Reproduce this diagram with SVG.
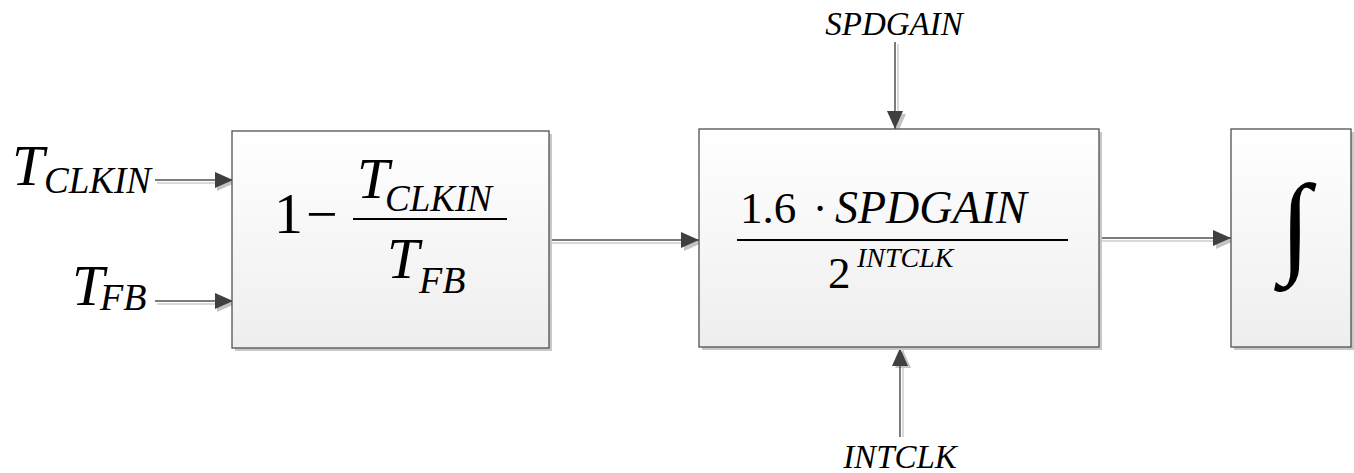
<svg xmlns="http://www.w3.org/2000/svg" width="1354" height="473" viewBox="0 0 1354 473" font-family="Liberation Serif, DejaVu Serif, serif">
<defs>
<linearGradient id="boxfill" x1="0" y1="0" x2="0" y2="1">
<stop offset="0" stop-color="#ffffff"/>
<stop offset="1" stop-color="#eeeeee"/>
</linearGradient>
<marker id="ah" viewBox="0 0 18 16" refX="18" refY="8" markerWidth="18" markerHeight="16" markerUnits="userSpaceOnUse" orient="auto">
<path d="M0,0 L18,8 L0,16 Z" fill="#404040"/>
</marker>
<marker id="ahs" viewBox="0 0 18 16" refX="18" refY="8" markerWidth="18" markerHeight="16" markerUnits="userSpaceOnUse" orient="auto">
<path d="M0,0 L18,8 L0,16 Z" fill="#c4c4c4"/>
</marker>
</defs>
<style>
.box{fill:url(#boxfill);stroke:#505050;stroke-width:1.3}
.shadow{fill:#c8c8c8}
.line{stroke:#505050;stroke-width:1.5;fill:none;marker-end:url(#ah)}
.lines{stroke:#cccccc;stroke-width:1.5;fill:none;marker-end:url(#ahs)}
.it{font-style:italic;fill:#000}
.rm{fill:#000}
.bar{stroke:#000;stroke-width:2}
</style>
<g id="connectors">
<line class="lines" x1="157" y1="183" x2="235" y2="183"/>
<line class="line" x1="155" y1="180" x2="233" y2="180"/>
<line class="lines" x1="157" y1="304" x2="235" y2="304"/>
<line class="line" x1="155" y1="301" x2="233" y2="301"/>
<line class="lines" x1="551" y1="243" x2="702" y2="243"/>
<line class="line" x1="549" y1="240" x2="699" y2="240"/>
<line class="lines" x1="1101" y1="241" x2="1234" y2="241"/>
<line class="line" x1="1099" y1="238" x2="1231" y2="238"/>
<line class="lines" x1="898" y1="44" x2="898" y2="132"/>
<line class="line" x1="895" y1="42" x2="895" y2="129"/>
<line class="lines" x1="903" y1="437" x2="903" y2="350"/>
<line class="line" x1="900" y1="437" x2="900" y2="348"/>
</g>
<g id="label-tclkin">
<text class="it" x="12" y="185" font-size="58">T</text>
<text class="it" x="44" y="193" font-size="37">CLKIN</text>
</g>
<g id="label-tfb">
<text class="it" x="72" y="305" font-size="58">T</text>
<text class="it" x="100" y="310" font-size="38">FB</text>
</g>
<g id="block-ratio">
<rect class="shadow" x="235" y="134" width="317" height="217"/>
<rect class="box" x="232" y="131" width="317" height="217"/>
<text class="rm" x="274" y="233" font-size="58">1</text>
<text class="rm" x="306" y="233" font-size="56">−</text>
<line class="bar" x1="353" y1="219" x2="507" y2="219"/>
<text class="it" x="357" y="198" font-size="58">T</text>
<text class="it" x="385" y="211" font-size="37">CLKIN</text>
<text class="it" x="387" y="278" font-size="58">T</text>
<text class="it" x="419" y="293" font-size="38">FB</text>
</g>
<g id="block-gain">
<rect class="shadow" x="702" y="132" width="400" height="218"/>
<rect class="box" x="699" y="129" width="400" height="218"/>
<text class="rm" x="740" y="223" font-size="45">1.6</text>
<text class="rm" x="820" y="223" font-size="44" text-anchor="middle">·</text>
<text class="it" x="835" y="223" font-size="46">SPDGAIN</text>
<line class="bar" x1="737" y1="240" x2="1068" y2="240"/>
<text class="rm" x="828" y="288" font-size="45">2</text>
<text class="it" x="857" y="267" font-size="28">INTCLK</text>
</g>
<g id="block-integrator">
<rect class="shadow" x="1234" y="132" width="120" height="218"/>
<rect class="box" x="1231" y="129" width="120" height="218"/>
<text class="rm" x="1295" y="262" font-size="112" text-anchor="middle">∫</text>
</g>
<g id="label-spdgain">
<text class="it" x="894" y="35" font-size="33" text-anchor="middle">SPDGAIN</text>
</g>
<g id="label-intclk">
<text class="it" x="900" y="468" font-size="33" text-anchor="middle">INTCLK</text>
</g>
</svg>
